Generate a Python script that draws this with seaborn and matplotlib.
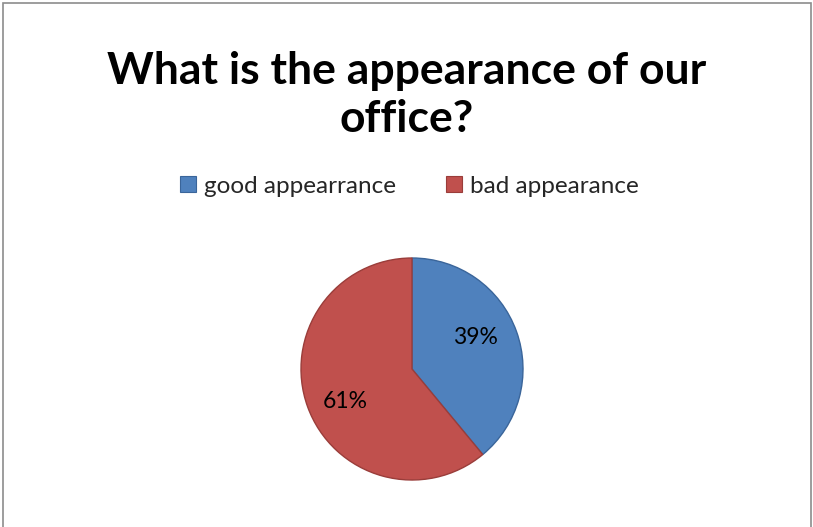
import matplotlib
matplotlib.use("Agg")
import matplotlib.pyplot as plt
import seaborn as sns
from matplotlib.patches import Patch, Rectangle

sns.set_style("white")
plt.rcParams['font.family'] = ['Lato', 'DejaVu Sans']

# data
categories = ['good appearrance', 'bad appearance']
shares = [39, 61]
title_lines = ['What is the appearance of our', 'office?']

colors = ['#4F81BD', '#C0504D']
edges = ['#3A659A', '#9A3D3A']

W, H = 813, 527
fig = plt.figure(figsize=(W / 100, H / 100), dpi=100)

# chart frame
fig.patches.append(Rectangle((3 / W, -0.1), (808 / W), 1.1 - 3 / H,
                             transform=fig.transFigure, fill=False,
                             edgecolor='#8c8c8c', linewidth=1.2))

fig.text(0.5, 1 - 71 / H, title_lines[0], ha='center', va='center',
         fontsize=32, fontweight='bold', color='black')
fig.text(0.5, 1 - 119 / H, title_lines[1], ha='center', va='center',
         fontsize=32, fontweight='bold', color='black')

handles = [Patch(facecolor=c, edgecolor=e, linewidth=0.8) for c, e in zip(colors, edges)]
fig.legend(handles, categories, loc='center', ncol=2, frameon=False,
           bbox_to_anchor=(0.5 + 3 / W, 1 - 186 / H), fontsize=17.5,
           handlelength=0.65, handleheight=0.65, handletextpad=0.33,
           columnspacing=2.05)

ax = fig.add_axes([301 / W, 47 / H, 222 / W, 222 / H])
wedges, texts, autotexts = ax.pie(shares, colors=colors, startangle=90,
                                  counterclock=False, autopct='%d%%',
                                  textprops={'fontsize': 16.5, 'color': 'black'},
                                  wedgeprops={'linewidth': 1.0})
for w, e in zip(wedges, edges):
    w.set_edgecolor(e)
autotexts[0].set_position((0.57, 0.28))
autotexts[1].set_position((-0.60, -0.29))
ax.set_xlim(-1.0, 1.0)
ax.set_ylim(-1.0, 1.0)
ax.set_aspect('equal')
ax.axis('off')

fig.savefig('out.png', dpi=100)
